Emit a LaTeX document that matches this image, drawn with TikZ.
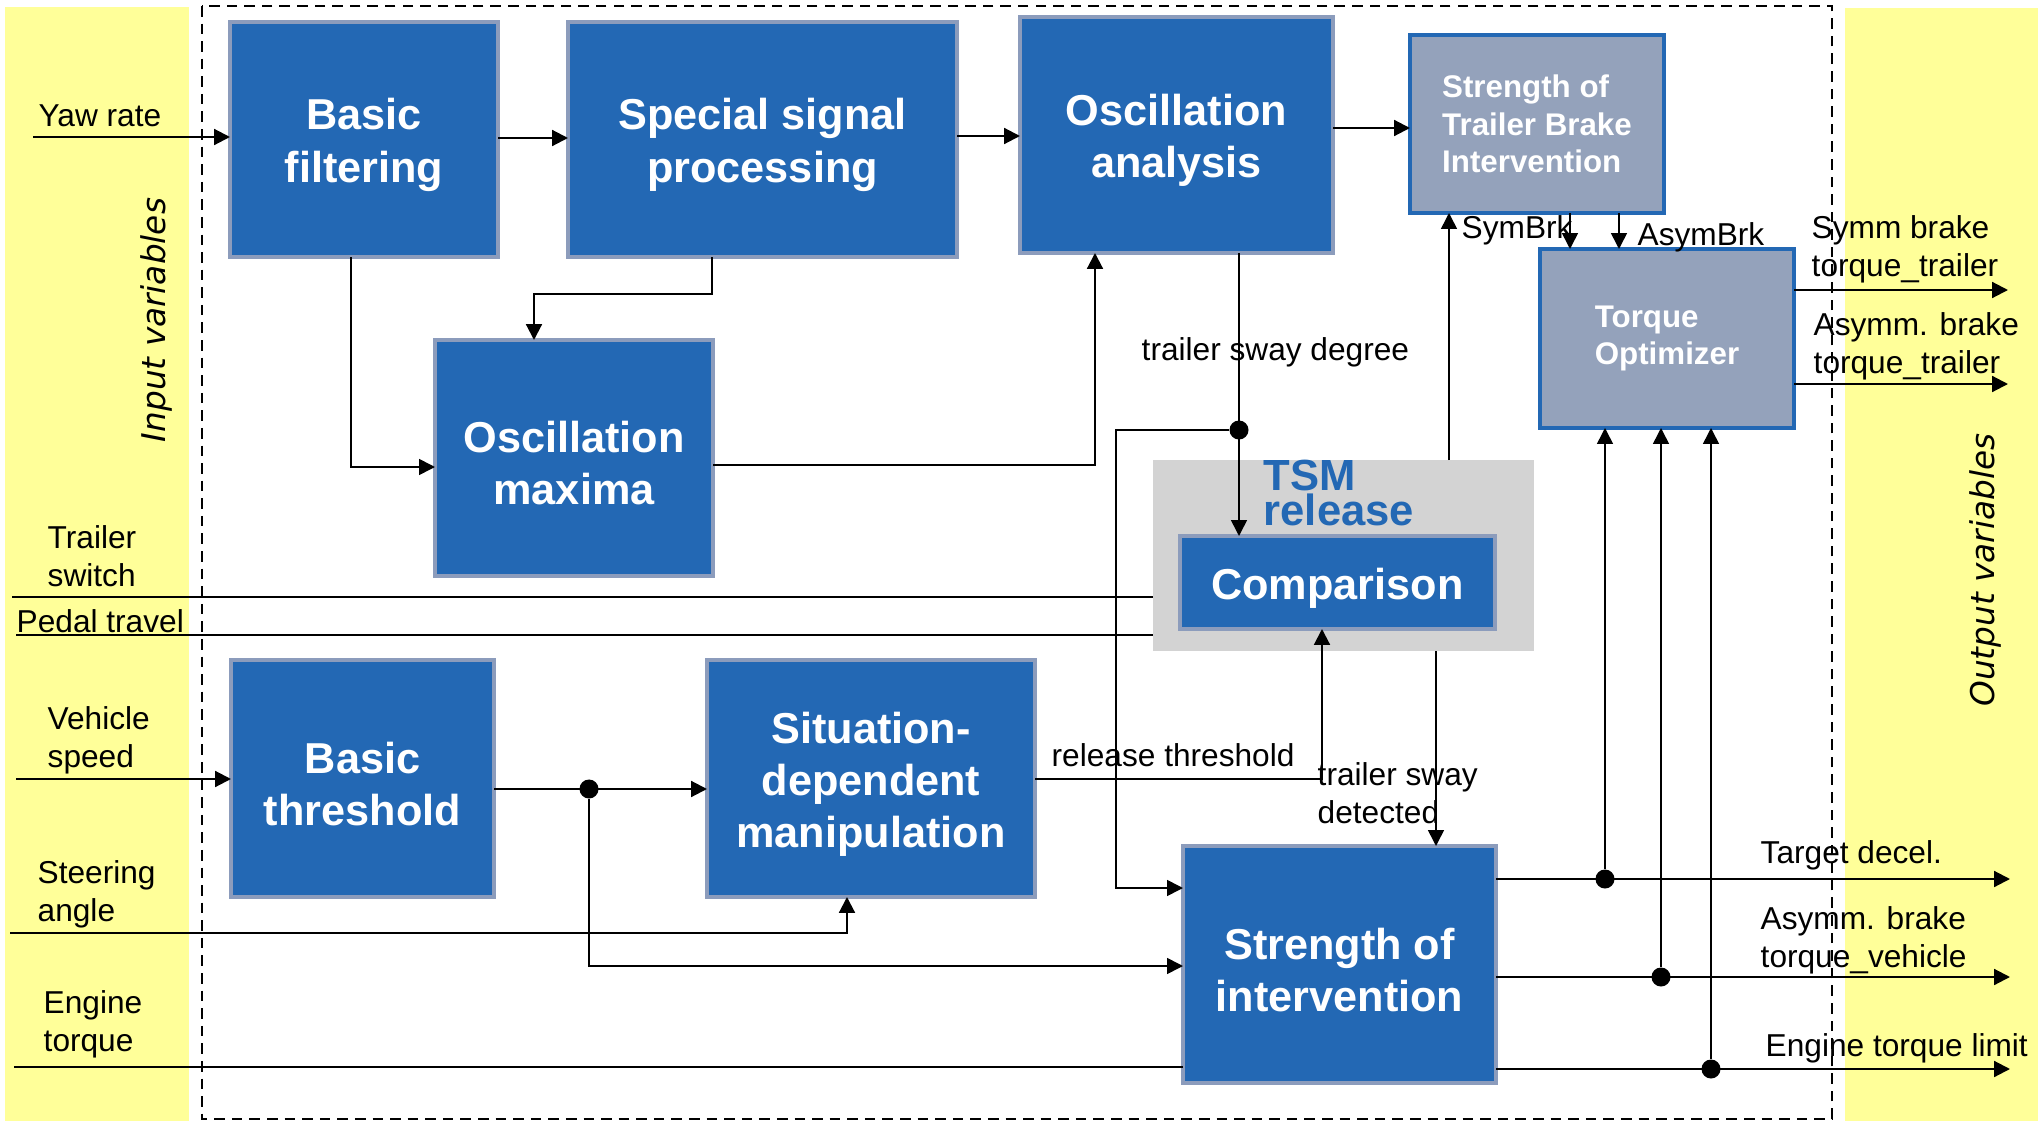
\documentclass[tikz,border=0pt]{standalone}
\usepackage{fontspec}
\setmainfont{Liberation Sans}
\newfontfamily\varfont{DejaVu Sans}
\usetikzlibrary{arrows.meta}
\definecolor{blkfill}{HTML}{2368B4}
\definecolor{blkedge}{HTML}{8C9CBC}
\definecolor{grayfill}{HTML}{94A2BB}
\definecolor{tsmgray}{HTML}{D3D3D3}
\definecolor{yel}{HTML}{FFFF99}
\newcommand\toppad{\rule{0pt}{12pt}}
\tikzset{
  sz/.style 2 args={minimum width=#1*0.01cm, minimum height=#2*0.01cm},
  blk/.style={fill=blkfill, draw=blkedge, line width=1.4pt, inner sep=0pt, outer sep=0pt,
    text=white, font=\fontsize{12.3}{14.8}\selectfont\bfseries, align=center},
  sblk/.style={fill=grayfill, draw=blkfill, line width=0.9pt, inner sep=0pt, outer sep=0pt,
    text=white, font=\fontsize{8.9}{10.7}\selectfont\bfseries, align=left},
  lbl/.style={font=\fontsize{9}{10.8}\selectfont, inner sep=0pt, align=left},
  vlbl/.style={font=\varfont\itshape\fontsize{9.3}{11}\selectfont, inner sep=0pt, rotate=90},
  arr/.style={-{Triangle[length=4.5pt,width=4.5pt]}, line width=0.6pt},
  tarr/.style={-{Triangle[length=4.5pt,width=4.5pt]}, line width=0.45pt},
  ln/.style={line width=0.6pt},
  jdot/.style={circle, fill=black, inner sep=0pt, minimum size=0.19cm},
}
\begin{document}
\begin{tikzpicture}[x=0.01cm, y=-0.01cm]
\useasboundingbox (0,0) rectangle (2038,1121);
% side bands
\fill[yel] (5,7) rectangle (189,1121);
\fill[yel] (1845,8) rectangle (2038,1121);
\draw[dashed, line width=0.6pt, dash pattern=on 3pt off 2pt] (202,6) rectangle (1832,1119);
\node[vlbl] (inlab) at (156,320) {Input variables};
\node[vlbl] (outlab) at (1985,570) {Output variables};
% TSM release background
\node[fill=tsmgray, inner sep=0pt, outer sep=0pt, sz={381}{191}] (tsm) at (1343.5,555.5) {};
\node[anchor=north west, text=blkfill, font=\fontsize{12.4}{10}\selectfont\bfseries, align=left, inner sep=0pt] (tsmlbl) at (1263,459) {TSM\\release};
% blocks
\node[blk, sz={268}{235}] (bf) at (364,139.5) {\toppad Basic\\filtering};
\node[blk, sz={389}{235}] (ssp) at (762.5,139.5) {\toppad Special signal\\processing};
\node[blk, sz={313}{236}] (oa) at (1176.5,135) {\toppad Oscillation\\analysis};
\node[sblk, sz={254}{178}] (stb) at (1537,124) {Strength of\\Trailer Brake\\Intervention};
\node[sblk, sz={254}{179}] (to) at (1667,338.5) {Torque\\Optimizer};
\node[blk, sz={278}{236}] (om) at (574,458) {\toppad Oscillation\\maxima};
\node[blk, sz={315}{93}] (cmp) at (1337.5,582.5) {\toppad Comparison};
\node[blk, sz={263}{237}] (bt) at (362.5,778.5) {\toppad Basic\\threshold};
\node[blk, sz={328}{237}] (sdm) at (871,778.5) {\toppad Situation-\\dependent\\manipulation};
\node[blk, sz={313}{237}] (si) at (1339.5,964.5) {\toppad Strength of\\intervention};
% junction dots
\node[jdot] (j1) at (1239,430) {};
\node[jdot] (j2) at (589,789) {};
\node[jdot] (d1) at (1605,879) {};
\node[jdot] (d2) at (1661,977) {};
\node[jdot] (d3) at (1711,1069) {};
% input coordinates
\coordinate (inYaw) at (33,137);
\coordinate (inTS) at (12,597);
\coordinate (inPT) at (16,635);
\coordinate (inVS) at (16,779);
\coordinate (inSA) at (10,933);
\coordinate (inET) at (14,1067);
% output coordinates
\coordinate (oSym) at (2008,290);
\coordinate (oAsT) at (2008,384);
\coordinate (oTD) at (2010,879);
\coordinate (oAV) at (2010,977);
\coordinate (oEL) at (2010,1069);
% connectors
\draw[arr] (inYaw) -- (inYaw -| bf.west);
\draw[arr] (bf.east |- 0,138) -- (ssp.west |- 0,138);
\draw[arr] (ssp.east |- 0,136) -- (oa.west |- 0,136);
\draw[arr] (oa.east |- 0,128) -- (stb.west |- 0,128);
\draw[tarr] (bf.south -| 351,0) |- (om.west |- 0,467);
\draw[arr] (ssp.south -| 712,0) |- (534,294) -- (om.north -| 534,0);
\draw[arr] (om.east |- 0,465) -| (oa.south -| 1095,0);
\draw[tarr] (oa.south -| 1239,0) -- (cmp.north -| 1239,0);
\draw[tarr] (j1) -| (1116,888) -- (si.west |- 0,888);
\draw[tarr] (tsm.north -| 1449,0) -- (stb.south -| 1449,0);
\draw[tarr] (stb.south -| 1570,0) -- (to.north -| 1570,0);
\draw[tarr] (stb.south -| 1619,0) -- (to.north -| 1619,0);
\draw[arr] (to.east |- oSym) -- (oSym);
\draw[arr] (to.east |- oAsT) -- (oAsT);
\draw[ln] (inTS) -- (inTS -| tsm.west);
\draw[ln] (inPT) -- (inPT -| tsm.west);
\draw[arr] (inVS) -- (inVS -| bt.west);
\draw[arr] (bt.east |- 0,789) -- (sdm.west |- 0,789);
\draw[tarr] (j2) |- (si.west |- 0,966);
\draw[arr] (inSA) -| (sdm.south -| 847,0);
\draw[ln] (inET) -- (inET -| si.west);
\draw[arr] (sdm.east |- 0,779) -| (cmp.south -| 1322,0);
\draw[tarr] (tsm.south -| 1436,0) -- (si.north -| 1436,0);
\draw[arr] (si.east |- oTD) -- (oTD);
\draw[arr] (si.east |- oAV) -- (oAV);
\draw[arr] (si.east |- oEL) -- (oEL);
\draw[tarr] (d1) -- (d1 |- to.south);
\draw[tarr] (d2) -- (d2 |- to.south);
\draw[tarr] (d3) -- (d3 |- to.south);
% labels
\node[lbl, anchor=west] (lyaw) at (38,116) {Yaw rate};
\node[lbl, anchor=west] (lts) at (47,556) {Trailer\\switch};
\node[lbl, anchor=west] (lpt) at (16,621) {Pedal travel};
\node[lbl, anchor=west] (lvs) at (47,740) {Vehicle\\speed};
\node[lbl, anchor=west] (lsa) at (37,894) {Steering\\angle};
\node[lbl, anchor=west] (let) at (43,1024) {Engine\\torque};
\node[lbl, anchor=west] (ltsd) at (1141,352) {trailer sway degree};
\node[lbl, anchor=west] (lsym) at (1461,230) {SymBrk};
\node[lbl, anchor=west] (lasym) at (1637,237) {AsymBrk};
\node[lbl, anchor=west] (lsbt) at (1811,249) {Symm brake\\torque\_trailer};
\node[lbl, anchor=west] (labt) at (1813,346) {Asymm. brake\\torque\_trailer};
\node[lbl, anchor=west] (lrt) at (1051,755) {release threshold};
\node[lbl, anchor=west] (ltsdet) at (1317,793) {trailer sway\\detected};
\node[lbl, anchor=west] (ltd) at (1760,855) {Target decel.};
\node[lbl, anchor=west] (labv) at (1760,940) {Asymm. brake\\torque\_vehicle};
\node[lbl, anchor=west] (lel) at (1765,1048) {Engine torque limit};
\end{tikzpicture}
\end{document}
